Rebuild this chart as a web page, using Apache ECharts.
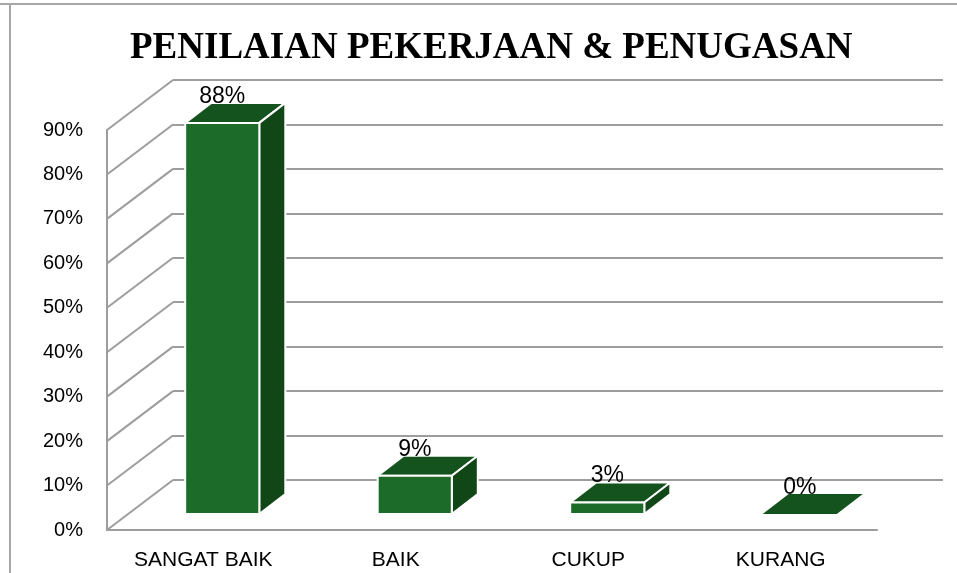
<!DOCTYPE html>
<html>
<head>
<meta charset="utf-8">
<title>Penilaian Pekerjaan & Penugasan</title>
<script src="https://cdn.jsdelivr.net/npm/echarts@6/dist/echarts.min.js"></script>
<style>
  html, body { margin: 0; padding: 0; background: #fff; }
  #chart { width: 957px; height: 573px; }
</style>
</head>
<body>
<div id="chart"></div>
<script>
const categories = ['SANGAT BAIK', 'BAIK', 'CUKUP', 'KURANG']
const percentValues = [88, 8.6, 2.6, 0]
const yTicks = [0, 10, 20, 30, 40, 50, 60, 70, 80, 90]

// oblique depth of the 3d box (wall) and of the bars inside it
const WALL_DX = 66
const WALL_DY = 50
const BAR_OX = 19
const BAR_OY = 16
const BAR_DX = 26
const BAR_DY = 20

const gridColor = '#9d9d9d'

const renderWall = (params, api) => {
  const p = api.coord([0, api.value(1)])
  const left = p[0] - api.size([1, 0])[0] / 2
  return {
    type: 'line',
    shape: { x1: left, y1: p[1], x2: left + WALL_DX, y2: p[1] - WALL_DY },
    style: { stroke: gridColor, lineWidth: 2 }
  }
}

const renderBar = (params, api) => {
  const idx = api.value(0)
  const val = api.value(1)
  const top = api.coord([idx, val])
  const base = api.coord([idx, 0])
  const w = api.size([1, 0])[0] * 0.385
  const x0 = top[0] - w / 2 + BAR_OX
  const x1 = x0 + w
  const yTop = top[1] - BAR_OY
  const yBot = base[1] - BAR_OY
  const h = yBot - yTop
  const edge = h > 0.5 ? 2 : 0
  const children = [{
    type: 'polygon',
    shape: { points: [[x0, yTop], [x1, yTop], [x1 + BAR_DX, yTop - BAR_DY], [x0 + BAR_DX, yTop - BAR_DY]] },
    style: { fill: '#15531e', stroke: '#fff', lineWidth: edge, lineJoin: 'round' }
  }]
  if (h > 0.5) {
    children.push({
      type: 'polygon',
      shape: { points: [[x1, yTop], [x1 + BAR_DX, yTop - BAR_DY], [x1 + BAR_DX, yBot - BAR_DY], [x1, yBot]] },
      style: { fill: '#114617', stroke: '#fff', lineWidth: edge, lineJoin: 'round' }
    })
    children.push({
      type: 'rect',
      shape: { x: x0, y: yTop, width: w, height: h },
      style: { fill: '#1c6b28', stroke: '#fff', lineWidth: edge }
    })
  }
  children.push({
    type: 'text',
    style: {
      text: Math.round(val) + '%',
      x: (x0 + x1) / 2,
      y: yTop - BAR_DY + 5,
      align: 'center',
      verticalAlign: 'bottom',
      fontSize: 23,
      fontFamily: 'Liberation Sans, Arial, sans-serif',
      fill: '#000'
    }
  })
  return { type: 'group', children: children }
}

const chart = echarts.init(document.getElementById('chart'))

chart.setOption({
  animation: false,
  backgroundColor: '#fff',
  title: {
    text: 'PENILAIAN PEKERJAAN & PENUGASAN',
    left: 125,
    top: 25,
    textStyle: {
      fontFamily: 'Liberation Serif, Times New Roman, serif',
      fontWeight: 'bold',
      fontSize: 37,
      color: '#000'
    }
  },
  graphic: [
    { type: 'line', shape: { x1: 0, y1: 4, x2: 957, y2: 4 }, style: { stroke: '#a6a6a6', lineWidth: 2 } },
    { type: 'line', shape: { x1: 10, y1: 4, x2: 10, y2: 573 }, style: { stroke: '#a6a6a6', lineWidth: 2 } }
  ],
  grid: [
    { left: 107, right: 80, top: 130, bottom: 43 },
    { left: 173, right: 14, top: 80, bottom: 93 }
  ],
  xAxis: [
    {
      type: 'category',
      data: categories,
      gridIndex: 0,
      axisLine: { lineStyle: { color: gridColor, width: 2 } },
      axisTick: { show: false },
      axisLabel: {
        interval: 0,
        margin: 20,
        fontSize: 21,
        fontFamily: 'Liberation Sans, Arial, sans-serif',
        color: '#000'
      }
    },
    { type: 'value', gridIndex: 1, show: false }
  ],
  yAxis: [
    {
      type: 'value',
      gridIndex: 0,
      min: 0,
      max: 90,
      interval: 10,
      axisLine: { show: true, lineStyle: { color: gridColor, width: 2 } },
      axisTick: { show: false },
      splitLine: { show: false },
      axisLabel: {
        margin: 24,
        formatter: '{value}%',
        fontSize: 20,
        fontFamily: 'Liberation Sans, Arial, sans-serif',
        color: '#000'
      }
    },
    {
      type: 'value',
      gridIndex: 1,
      min: 0,
      max: 90,
      interval: 10,
      axisLine: { show: false },
      axisTick: { show: false },
      axisLabel: { show: false },
      splitLine: { lineStyle: { color: gridColor, width: 2 } }
    }
  ],
  series: [
    {
      type: 'custom',
      xAxisIndex: 0,
      yAxisIndex: 0,
      clip: false,
      silent: true,
      renderItem: renderWall,
      data: yTicks.map(v => [0, v])
    },
    {
      type: 'custom',
      xAxisIndex: 0,
      yAxisIndex: 0,
      clip: false,
      renderItem: renderBar,
      encode: { x: 0, y: 1 },
      data: percentValues.map((v, i) => [i, v])
    }
  ]
})

window.addEventListener('resize', function () {
  chart.resize()
})
</script>
</body>
</html>
